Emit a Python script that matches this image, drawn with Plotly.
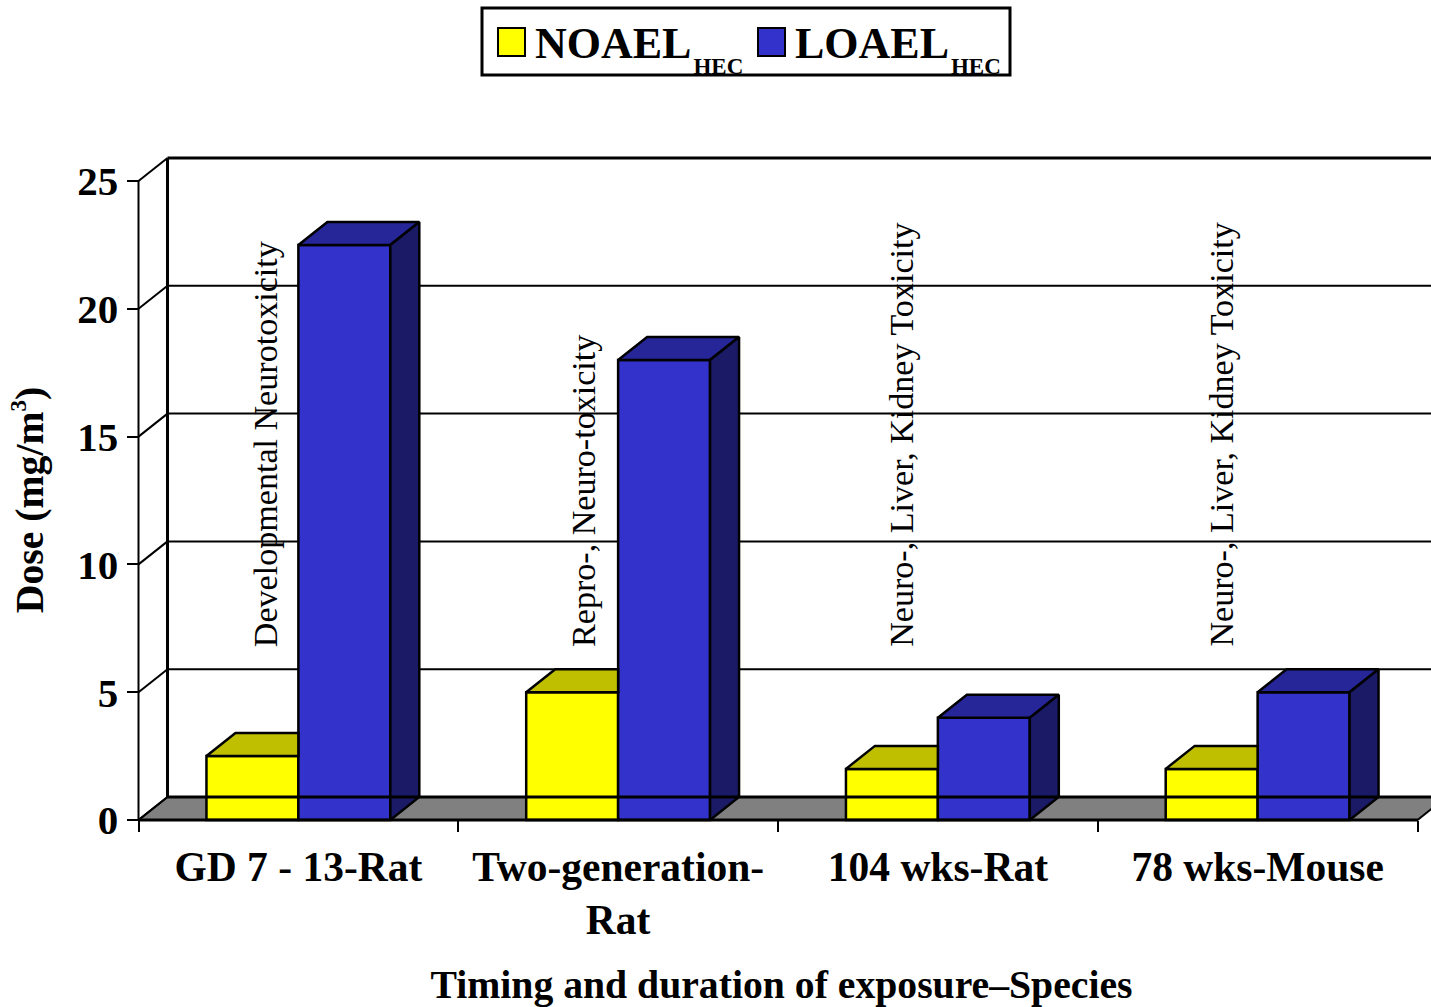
import plotly.graph_objects as go

# ---- data ----
categories = ["GD 7 - 13-Rat", "Two-generation-<br>Rat", "104 wks-Rat", "78 wks-Mouse"]
noael = [2.5, 5, 2, 2]
loael = [22.5, 18, 4, 5]
effects = ["Developmental Neurotoxicity", "Repro-, Neuro-toxicity",
           "Neuro-, Liver, Kidney Toxicity", "Neuro-, Liver, Kidney Toxicity"]
effect_offset = [-0.103, -0.106, -0.112, -0.112]
effect_base = 6.70
y_ticks = [0, 5, 10, 15, 20, 25]

# ---- geometry of the picture ----
W, H = 1431, 1007
FONT = "Liberation Serif"
x0_px, x1_px = 138.5, 1417.5
y0_px, y25_px = 820, 181
unit_x = (x1_px - x0_px) / 4
unit_y = (y0_px - y25_px) / 25
center0_px = x0_px + unit_x / 2
dom_left_px = 132
dom_bottom_px = 1000


def xval(px):
    return (px - center0_px) / unit_x


def yval(px):
    return (y0_px - px) / unit_y


dx = 29 / unit_x
dy = 23 / unit_y
bargap = 0.425
w = (1 - bargap) / 2
xs = list(range(len(categories)))
x_end = xval(W)

fig = go.Figure()
shapes = []


def seg(x_a, y_a, x_b, y_b, width=2):
    shapes.append(dict(type="line", xref="x", yref="y", layer="below",
                       x0=x_a, y0=y_a, x1=x_b, y1=y_b,
                       line=dict(color="black", width=width)))


def box(l, t, r, b, fill, width):
    shapes.append(dict(type="rect", xref="paper", yref="paper", layer="above",
                       x0=l / W, x1=r / W, y0=1 - b / H, y1=1 - t / H,
                       fillcolor=fill, line=dict(color="black", width=width)))


# floor
shapes.append(dict(type="path", xref="x", yref="y", layer="below",
                   path=f"M -0.5 0 L {-0.5+dx} {dy} L {3.5+dx} {dy} L 3.5 0 Z",
                   fillcolor="#808080", line=dict(color="black", width=2)))
# back wall
for t in y_ticks:
    seg(-0.5, t, -0.5 + dx, t + dy)
    if 0 < t < 25:
        seg(-0.5 + dx, t + dy, x_end, t + dy)
seg(-0.5 + dx, 25 + dy, x_end, 25 + dy, 3)
seg(-0.5 + dx, dy, -0.5 + dx, 25 + dy, 3)

# fronts
fig.add_trace(go.Bar(x=xs, y=noael, marker=dict(color="#ffff00", line=dict(color="black", width=2.5)),
                     name="NOAEL", showlegend=False, hoverinfo="skip"))
fig.add_trace(go.Bar(x=xs, y=loael, marker=dict(color="#3333cc", line=dict(color="black", width=2.5)),
                     name="LOAEL", showlegend=False, hoverinfo="skip"))


def poly(px, py, color):
    fig.add_trace(go.Scatter(x=px, y=py, mode="lines", fill="toself", fillcolor=color,
                             line=dict(color="black", width=2.5), showlegend=False, hoverinfo="skip"))


for i, (n, l) in enumerate(zip(noael, loael)):
    xl, xm, xr = i - w, i, i + w
    poly([xl, xl + dx, xm, xm, xl], [n, n + dy, n + dy, n, n], "#bfbf00")
    poly([xm, xm + dx, xr + dx, xr, xm], [l, l + dy, l + dy, l, l], "#262699")
    poly([xr, xr + dx, xr + dx, xr, xr], [0, dy, l + dy, l, 0], "#1a1a66")


def line_trace(px, py, width=2):
    fig.add_trace(go.Scatter(x=px, y=py, mode="lines", line=dict(color="black", width=width),
                             showlegend=False, hoverinfo="skip"))


line_trace([-0.5 + dx, x_end], [dy, dy], 3)   # rear floor edge shows across the bars
line_trace([-0.5, 3.5], [0, 0], 3)            # x axis line
line_trace([-0.5, -0.5], [0, 25], 2)          # y axis line

# legend entries; the box and the big swatches lie under the see-through legend
box(482, 8, 1010, 75, "white", 3)
box(498, 28, 525, 56, "#ffff00", 2)
box(758, 28, 785, 56, "#3333cc", 2)
sub = '<sub><sub><span style="font-size:23px">\u200aHEC</span></sub></sub>'
for name, color in (("NOAEL", "#ffff00"), ("LOAEL", "#3333cc")):
    fig.add_trace(go.Scatter(x=[None], y=[None], mode="markers", name=name + sub,
                             marker=dict(symbol="square", size=16, color=color, line=dict(width=0))))

annotations = [dict(x=i + effect_offset[i], y=effect_base, xref="x", yref="y", text=t, textangle=-90,
                    xanchor="center", yanchor="bottom", showarrow=False,
                    font=dict(family=FONT, size=34.1, color="black"))
               for i, t in enumerate(effects)]

bold = dict(family=FONT, size=41, color="black", weight="bold")
bold_x = dict(family=FONT, size=41.5, color="black", weight="bold")
fig.update_layout(
    width=W, height=H, autosize=False,
    margin=dict(l=0, r=0, t=0, b=0),
    paper_bgcolor="white", plot_bgcolor="white",
    barmode="group", bargap=bargap, bargroupgap=0,
    shapes=shapes, annotations=annotations,
    font=dict(family=FONT, color="black"),
    legend=dict(orientation="h", x=485 / W, y=1 - 6 / H, xanchor="left", yanchor="top",
                bgcolor="rgba(0,0,0,0)", borderwidth=0,
                font=dict(family=FONT, size=44, color="black", weight="bold"),
                itemwidth=40, itemsizing="trace", entrywidthmode="pixels", entrywidth=205),
    xaxis=dict(domain=[dom_left_px / W, 1], range=[xval(dom_left_px), x_end],
               anchor="free", position=(H - y0_px) / H,
               tickmode="array", tickvals=xs, ticktext=categories,
               tickfont=bold_x, ticks="", ticklabelstandoff=18,
               showgrid=False, zeroline=False, showline=False,
               minor=dict(tickmode="array", tickvals=[-0.5, 0.5, 1.5, 2.5, 3.5], ticks="outside",
                          ticklen=11, tickwidth=2, tickcolor="black", showgrid=False),
               title=dict(text="<b>Timing and duration of exposure–Species</b>",
                          font=dict(family=FONT, size=39.7, color="black"), standoff=31)),
    yaxis=dict(domain=[(H - dom_bottom_px) / H, 1], range=[yval(dom_bottom_px), yval(0)],
               anchor="free", position=x0_px / W,
               tickmode="array", tickvals=y_ticks, tickfont=bold,
               ticks="outside", ticklen=12, tickwidth=2, tickcolor="black",
               showgrid=False, zeroline=False, showline=False,
               title=dict(text='<b>Dose (mg/m<sup><span style="font-size:23px">3</span></sup>)</b>',
                          font=dict(family=FONT, size=39.7, color="black"), standoff=20)),
)
fig.write_html("out.html", post_script="document.body.style.margin='0';",
               config={"displayModeBar": False})
